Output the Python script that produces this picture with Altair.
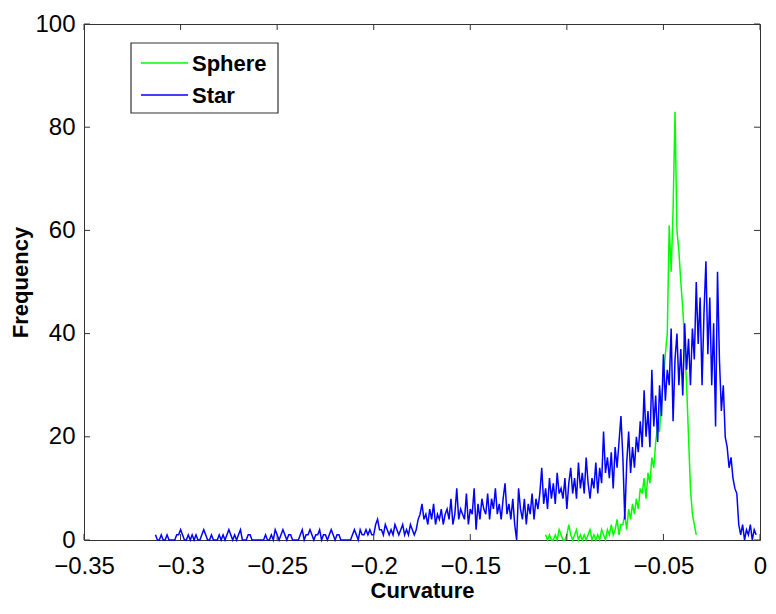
import altair as alt
import pandas as pd

# ---- data (histogram counts per 0.001 curvature bin) ----
STAR_START = -0.313
SPHERE_START = -0.111
BIN_STEP = 0.001

STAR = [
    1, 0, 0, 1, 0, 0, 1, 0, 0, 0,        # -0.313
    0, 1, 1, 2, 1, 0, 0, 1, 0, 1,        # -0.303
    0, 1, 0, 0, 1, 2, 1, 0, 0, 1,        # -0.293
    0, 0, 0, 1, 0, 1, 0, 1, 2, 1,        # -0.283
    0, 1, 0, 1, 2, 0, 0, 0, 1, 1,        # -0.273
    0, 0, 0, 0, 0, 0, 0, 1, 0, 0,        # -0.263
    1, 0, 2, 1, 0, 1, 2, 1, 0, 1,        # -0.253
    1, 0, 0, 0, 0, 1, 2, 0, 1, 1,        # -0.243
    2, 1, 0, 1, 1, 2, 0, 1, 1, 0,        # -0.233
    1, 2, 1, 0, 1, 1, 0, 0, 0, 0,        # -0.223
    0, 0, 1, 2, 1, 0, 2, 1, 1, 2,        # -0.213
    1, 2, 1, 1, 3, 4, 2, 2, 1, 3,        # -0.203
    2, 1, 2, 1, 3, 2, 1, 2, 3, 1,        # -0.193
    2, 1, 3, 2, 1, 2, 4, 5, 7, 4,        # -0.183
    5, 3, 6, 4, 7, 3, 5, 4, 6, 3,        # -0.173
    5, 6, 4, 8, 3, 5, 10, 4, 6, 5,       # -0.163
    4, 9, 3, 6, 5, 10, 2, 7, 4, 8,       # -0.153
    6, 5, 9, 4, 8, 6, 10, 5, 7, 4,       # -0.143
    8, 11, 5, 7, 4, 8, 3, 0, 10, 6,      # -0.133
    4, 8, 3, 7, 5, 9, 4, 8, 6, 9,        # -0.123
    14, 7, 10, 6, 12, 8, 11, 7, 13, 9,   # -0.113
    10, 8, 12, 6, 11, 14, 9, 12, 8, 15,  # -0.103
    10, 13, 9, 16, 11, 8, 12, 10, 15, 9, # -0.093
    14, 11, 21, 13, 16, 12, 17, 10, 18, 14,  # -0.083
    19, 24, 16, 4, 15, 21, 13, 18, 14, 20,   # -0.073
    17, 23, 18, 29, 20, 25, 18, 33, 22, 28,  # -0.063
    19, 30, 24, 36, 27, 33, 30, 41, 23, 35,  # -0.053
    40, 30, 37, 28, 42, 33, 39, 30, 41, 35,  # -0.043
    50, 38, 47, 30, 44, 54, 36, 47, 30, 42,  # -0.033
    22, 52, 35, 25, 30, 20, 18, 14, 16, 12,  # -0.023
    10, 9, 3, 1, 3, 0, 2, 1, 3, 0,           # -0.013
    2, 1,                                    # -0.003
]

SPHERE = [
    1, 0, 1, 0, 0, 1, 0, 2, 1, 0,            # -0.111
    0, 1, 3, 1, 0, 1, 2, 0, 1, 0,            # -0.101
    1, 0, 1, 2, 0, 1, 0, 1, 0, 2,            # -0.091
    1, 0, 2, 1, 3, 1, 2, 4, 1, 3,            # -0.081
    3, 5, 2, 6, 4, 7, 5, 8, 6, 10,           # -0.071
    9, 12, 8, 13, 11, 16, 14, 19, 22, 21,    # -0.061
    27, 31, 36, 40, 61, 52, 64, 83, 60, 56,  # -0.051
    50, 45, 38, 30, 20, 10, 5, 3, 1,         # -0.041
]

SERIES = ["Sphere", "Star"]
COLORS = ["#00ff00", "#0000ff"]
XTICKS = [-0.35, -0.3, -0.25, -0.2, -0.15, -0.1, -0.05, 0]
YTICKS = [0, 20, 40, 60, 80, 100]

W, H = 676, 516
FONT = "Liberation Sans"
LINE_W = 1.5


def frame(start, values, name):
    return pd.DataFrame({
        "x": [round(start + i * BIN_STEP, 4) for i in range(len(values))],
        "y": values,
        "series": name,
    })


sphere_df = frame(SPHERE_START, SPHERE, "Sphere")
star_df = frame(STAR_START, STAR, "Star")

xscale = alt.Scale(domain=[-0.35, 0], nice=False, zero=False)
yscale = alt.Scale(domain=[0, 100], nice=False)
cscale = alt.Scale(domain=SERIES, range=COLORS)

x_axis = alt.Axis(
    title="Curvature", values=XTICKS, format="~g", ticks=False, grid=False, domain=False,
    labelFont=FONT, labelFontSize=24, labelColor="black", labelPadding=14,
    labelOverlap=False, labelFlush=False,
    titleFont=FONT, titleFontSize=22, titleFontWeight="bold", titleColor="black",
    titlePadding=2,
)
y_axis = alt.Axis(
    title="Frequency", values=YTICKS, ticks=False, grid=False, domain=False,
    labelFont=FONT, labelFontSize=24, labelColor="black", labelPadding=9,
    labelOverlap=False, labelFlush=False,
    titleFont=FONT, titleFontSize=22, titleFontWeight="bold", titleColor="black",
    titlePadding=2,
)

X = alt.X("x:Q", scale=xscale, axis=x_axis)
Y = alt.Y("y:Q", scale=yscale, axis=y_axis)
C = alt.Color("series:N", scale=cscale, legend=None)

sphere_line = alt.Chart(sphere_df).mark_line(strokeWidth=LINE_W).encode(x=X, y=Y, color=C)
star_line = alt.Chart(star_df).mark_line(strokeWidth=LINE_W).encode(x=X, y=Y, color=C)

# inward ticks on all four sides (MATLAB style box)
xt = pd.DataFrame({"x": XTICKS})
yt = pd.DataFrame({"y": YTICKS})
TICK = "#333333"
TL = 6
tb = alt.Chart(xt).mark_rule(color=TICK, strokeWidth=1).encode(x=X, y=alt.value(H), y2=alt.value(H - TL))
tt = alt.Chart(xt).mark_rule(color=TICK, strokeWidth=1).encode(x=X, y=alt.value(0), y2=alt.value(TL))
tl = alt.Chart(yt).mark_rule(color=TICK, strokeWidth=1).encode(y=Y, x=alt.value(0), x2=alt.value(TL))
tr = alt.Chart(yt).mark_rule(color=TICK, strokeWidth=1).encode(y=Y, x=alt.value(W), x2=alt.value(W - TL))

# legend box drawn in the upper-left corner of the plot
LX, LY, LW, LH = 47, 19, 147, 70
legend_box = alt.Chart(pd.DataFrame({"series": ["box"]})).mark_rect(
    fill="white", stroke="#333333", strokeWidth=1.2
).encode(x=alt.value(LX), x2=alt.value(LX + LW), y=alt.value(LY), y2=alt.value(LY + LH))

legend_layers = []
for i, name in enumerate(SERIES):
    row = pd.DataFrame({"series": [name]})
    yy = LY + 20 + 32 * i
    legend_layers.append(
        alt.Chart(row).mark_rule(strokeWidth=LINE_W).encode(
            x=alt.value(LX + 10), x2=alt.value(LX + 57), y=alt.value(yy), color=C)
    )
    legend_layers.append(
        alt.Chart(row).mark_text(
            font=FONT, fontSize=22, fontWeight="bold", color="black",
            align="left", baseline="middle"
        ).encode(x=alt.value(LX + 61), y=alt.value(yy + 1), text="series:N")
    )

chart = alt.layer(
    sphere_line, star_line, tb, tt, tl, tr, legend_box, *legend_layers
).properties(
    width=W, height=H,
    autosize=alt.AutoSizeParams(type="none"),
    padding={"left": 76, "top": 16, "right": 8, "bottom": 66},
    background="white",
).configure_view(stroke="#333333", strokeWidth=1)

chart.save("out.html", embed_options={"renderer": "svg", "actions": False})
